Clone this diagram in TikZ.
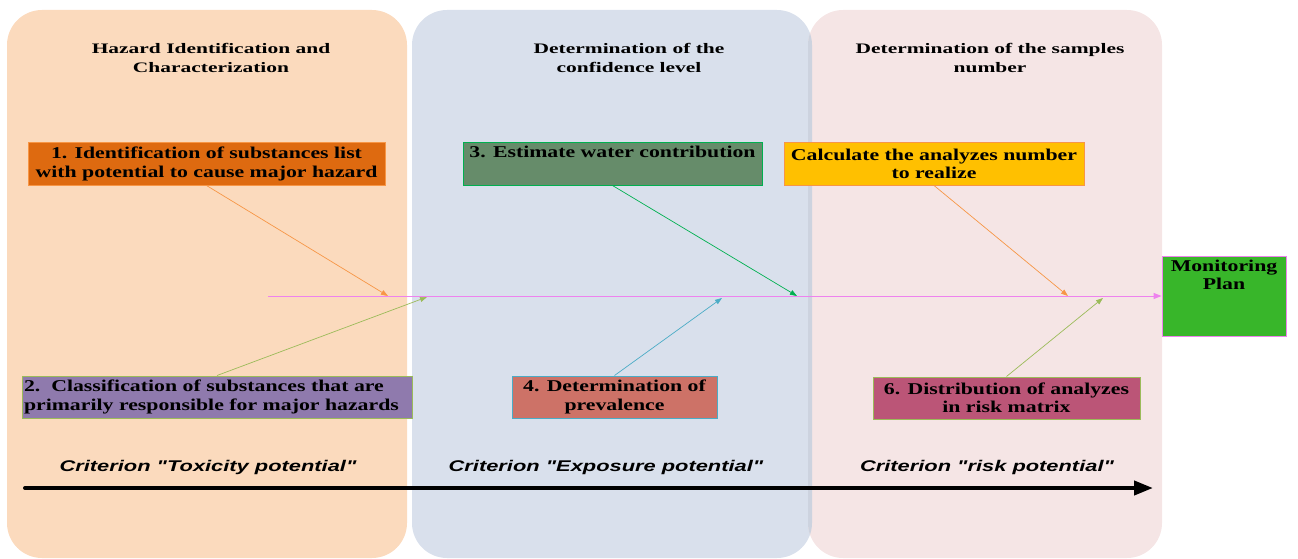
\documentclass[tikz,border=0pt]{standalone}
\usepackage{fontspec}
\setmainfont{Liberation Serif}
\newfontfamily\boxfont[FakeStretch=1.32]{Liberation Serif}
\newfontfamily\headfont[FakeStretch=1.48]{Liberation Serif}
\newfontfamily\critfont[FakeStretch=1.41]{Liberation Sans}
\usetikzlibrary{arrows.meta}
\definecolor{panelO}{HTML}{FBDABD}
\definecolor{panelB}{HTML}{D9E0EC}
\definecolor{panelP}{HTML}{F5E5E5}
\definecolor{overlapC}{HTML}{CDD3DF}
\definecolor{fillO}{HTML}{DE6A10}
\definecolor{fillG}{HTML}{668C6A}
\definecolor{fillY}{HTML}{FFC000}
\definecolor{fillV}{HTML}{8F7AAD}
\definecolor{fillR}{HTML}{CD7267}
\definecolor{fillM}{HTML}{BB5577}
\definecolor{fillMP}{HTML}{38B62A}
\definecolor{lnO}{HTML}{F79646}
\definecolor{lnG}{HTML}{00B050}
\definecolor{lnOl}{HTML}{9BBB59}
\definecolor{lnB}{HTML}{4BACC6}
\definecolor{lnP}{HTML}{EE82EE}
\begin{document}
\begin{tikzpicture}[x=1pt,y=-1pt,
  header/.style={font=\headfont\fontsize{14.5}{19}\selectfont\bfseries, align=center, text=black},
  stepbox/.style={draw, line width=1pt, font=\boxfont\fontsize{16.5}{18.5}\selectfont\bfseries, align=center, inner sep=0pt, text=black},
  crit/.style={font=\critfont\fontsize{15.5}{18}\selectfont\bfseries\itshape, text=black},
  conn/.style={line width=0.7pt, -{Triangle[length=7pt,width=5pt]}},
]
\useasboundingbox (0,0) rectangle (1298,559);
% panels
\fill[panelO, rounded corners=35pt] (7,10) rectangle (407,558);
\fill[panelB, rounded corners=35pt] (412,10) rectangle (812,558);
\fill[panelP, rounded corners=35pt] (808,10) rectangle (1162,558);
\begin{scope}
  \clip[rounded corners=35pt] (808,10) rectangle (1162,558);
  \fill[overlapC, rounded corners=35pt] (412,10) rectangle (812,558);
\end{scope}
% headers
\node[header] (h1) at (211,57.5) {Hazard Identification and\\Characterization};
\node[header] (h2) at (629,57.5) {Determination of the\\confidence level};
\node[header] (h3) at (990,57.5) {Determination of the samples\\number};
% boxes
\node[stepbox, fill=fillO, draw=lnO, minimum width=357pt, minimum height=42pt] (b1) at (206.5,164)
  {1. Identification of substances list\\with potential to cause major hazard};
\node[stepbox, fill=fillG, draw=lnG, minimum width=299pt, minimum height=42pt] (b3) at (612.5,164)
  {3. Estimate water contribution\\\strut};
\node[stepbox, fill=fillY, draw=lnO, minimum width=300pt, minimum height=42pt] (b5) at (934,164)
  {Calculate the analyzes number\\to realize};
\node[stepbox, fill=fillV, draw=lnOl, minimum width=390pt, minimum height=42pt, align=left, text width=386pt] (b2) at (217,397)
  {2.\ \ Classification of substances that are\\primarily responsible for major hazards};
\node[stepbox, fill=fillR, draw=lnB, minimum width=205pt, minimum height=42pt] (b4) at (614.5,397)
  {4. Determination of\\prevalence};
\node[stepbox, fill=fillM, draw=lnOl, minimum width=267pt, minimum height=42pt] (b6) at (1006.5,398)
  {6. Distribution of analyzes\\in risk matrix};
\node[stepbox, fill=fillMP, draw=lnP, minimum width=124pt, minimum height=80pt] (mp) at (1224,296)
  {Monitoring\\Plan\\\strut\\\strut};
% spine
\coordinate (s0) at (268,296);
\draw[lnP, line width=1pt, -{Triangle[length=8pt,width=6pt]}] (s0) -- (mp.west);
\coordinate (e1) at (388,296);
\coordinate (e2) at (427,297);
\coordinate (e3) at (797,296);
\coordinate (e4) at (722,298);
\coordinate (e5) at (1068,296);
\coordinate (e6) at (1103,298);
\draw[conn, lnO] (b1.south) -- (e1);
\draw[conn, lnOl] (b2.north) -- (e2);
\draw[conn, lnG] (b3.south) -- (e3);
\draw[conn, lnB] (b4.north) -- (e4);
\draw[conn, lnO] (b5.south) -- (e5);
\draw[conn, lnOl] (b6.north) -- (e6);
% criteria
\node[crit] (c1) at (208,467) {Criterion "Toxicity potential"};
\node[crit] (c2) at (606,467) {Criterion "Exposure potential"};
\node[crit] (c3) at (987,467) {Criterion "risk potential"};
% timeline arrow
\coordinate (a0) at (25,488);
\coordinate (a1) at (1153,488);
\draw[line width=4pt, line cap=round, -{Triangle[length=19pt,width=14pt]}] (a0) -- (a1);
\end{tikzpicture}
\end{document}
